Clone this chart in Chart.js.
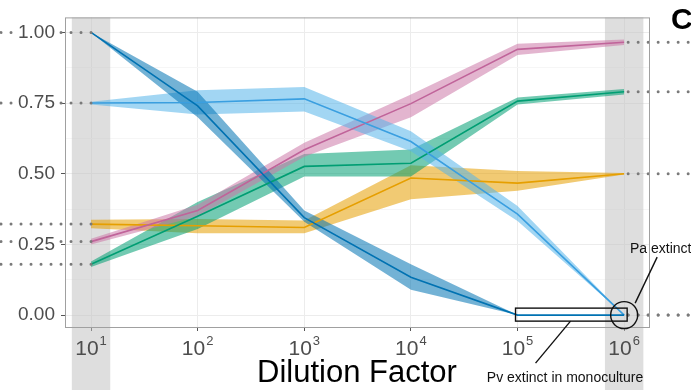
<!DOCTYPE html>
<html>
<head>
<meta charset="utf-8">
<script src="https://cdn.jsdelivr.net/npm/chart.js@4/dist/chart.umd.min.js"></script>
<style>
  body { margin: 0; background: #fff; }
  canvas { display: block; }
</style>
</head>
<body>
<canvas id="chart" width="691" height="390"></canvas>
<script>
// dilution factors (x) and tick exponents
const dilution = [10, 100, 1000, 10000, 100000, 1000000];
const xTickExps = [1, 2, 3, 4, 5, 6];
const yTicks = [0, 0.25, 0.5, 0.75, 1.0];

// mean values and ribbon bounds
const pvMean = [1.00, 0.74, 0.345, 0.134, 0.00, 0.00];
const pvLo   = [1.00, 0.70, 0.33, 0.09, 0.00, 0.00];
const pvHi   = [1.00, 0.79, 0.37, 0.18, 0.00, 0.00];

const paMean = [0.75, 0.752, 0.765, 0.614, 0.357, 0.00];
const paLo   = [0.745, 0.71, 0.72, 0.58, 0.333, 0.00];
const paHi   = [0.755, 0.795, 0.807, 0.65, 0.386, 0.00];

const pinkMean = [0.26, 0.37, 0.585, 0.748, 0.94, 0.965];
const pinkLo   = [0.25, 0.35, 0.56, 0.70, 0.92, 0.955];
const pinkHi   = [0.27, 0.39, 0.61, 0.78, 0.96, 0.975];

const greenMean = [0.18, 0.35, 0.526, 0.537, 0.757, 0.79];
const greenLo   = [0.17, 0.305, 0.49, 0.49, 0.745, 0.78];
const greenHi   = [0.19, 0.40, 0.57, 0.586, 0.77, 0.80];

const orangeMean = [0.322, 0.316, 0.31, 0.485, 0.467, 0.50];
const orangeLo   = [0.307, 0.29, 0.29, 0.41, 0.44, 0.497];
const orangeHi   = [0.337, 0.34, 0.335, 0.53, 0.51, 0.503];

const series = [
  { mean: pvMean, lo: pvLo, hi: pvHi, line: '#0072B2', fill: 'rgba(0,114,178,0.55)' },
  { mean: paMean, lo: paLo, hi: paHi, line: '#3A9FE0', fill: 'rgba(86,180,233,0.55)' },
  { mean: pinkMean, lo: pinkLo, hi: pinkHi, line: '#C0649A', fill: 'rgba(204,121,167,0.55)' },
  { mean: greenMean, lo: greenLo, hi: greenHi, line: '#009E73', fill: 'rgba(0,158,115,0.55)' },
  { mean: orangeMean, lo: orangeLo, hi: orangeHi, line: '#E69F00', fill: 'rgba(230,159,0,0.55)' },
];

// shaded x-ranges (in dilution units) behind the end points
const bands = [[Math.pow(10, 0.82), Math.pow(10, 1.18)], [Math.pow(10, 5.82), Math.pow(10, 6.18)]];

const FONT = '"Liberation Sans", Arial, sans-serif';
const pts = arr => arr.map((v, i) => ({ x: dilution[i], y: v }));

const datasets = [];
series.forEach(s => {
  datasets.push({ data: pts(s.lo), borderWidth: 0, pointRadius: 0, fill: false, order: 2 });
  datasets.push({ data: pts(s.hi), borderWidth: 0, pointRadius: 0, fill: '-1', backgroundColor: s.fill, order: 2 });
});
series.forEach(s => {
  datasets.push({ data: pts(s.mean), borderColor: s.line, borderWidth: 1.6, pointRadius: 0, fill: false, order: 0 });
});

const decorPlugin = {
  id: 'decor',
  beforeDatasetsDraw(chart) {
    const { ctx, chartArea, scales: { x } } = chart;
    ctx.save();
    ctx.fillStyle = 'rgba(190,190,190,0.5)';
    bands.forEach(([a, b]) => {
      const x1 = x.getPixelForValue(a), x2 = x.getPixelForValue(b);
      ctx.fillRect(x1, chartArea.top, x2 - x1, chart.height - chartArea.top);
    });
    ctx.restore();
  },
  afterDatasetsDraw(chart) {
    // dotted guides at the end values, kept off the y labels
    const { ctx, chartArea: ca, scales: { x, y } } = chart;
    ctx.save();
    ctx.font = '19px ' + FONT;
    ctx.beginPath();
    ctx.rect(0, 0, chart.width, chart.height);
    yTicks.forEach(v => {
      const w = ctx.measureText(v.toFixed(2)).width;
      const py = y.getPixelForValue(v);
      ctx.rect(ca.left - 10 - w - 1, py - 9, w + 2, 18);
    });
    ctx.clip('evenodd');
    ctx.strokeStyle = '#7a7a7a';
    ctx.lineWidth = 3;
    ctx.lineCap = 'round';
    ctx.setLineDash([0, 10]);
    const x0 = x.getPixelForValue(dilution[0]);
    const xN = x.getPixelForValue(dilution[dilution.length - 1]);
    series.forEach(s => {
      const y0 = y.getPixelForValue(s.mean[0]);
      ctx.beginPath(); ctx.moveTo(x0, y0); ctx.lineTo(0, y0); ctx.stroke();
      const yN = y.getPixelForValue(s.mean[s.mean.length - 1]);
      ctx.beginPath(); ctx.moveTo(xN + 4, yN); ctx.lineTo(chart.width, yN); ctx.stroke();
    });
    ctx.restore();
  },
  afterDraw(chart) {
    const { ctx, chartArea: ca, scales: { x, y } } = chart;
    ctx.save();
    // panel border
    ctx.strokeStyle = '#a0a0a0';
    ctx.lineWidth = 1;
    ctx.strokeRect(ca.left + 0.5, ca.top + 0.5, ca.right - ca.left, ca.bottom - ca.top);

    // x tick labels with superscripts
    ctx.fillStyle = '#4d4d4d';
    ctx.textBaseline = 'alphabetic';
    xTickExps.forEach(e => {
      const px = x.getPixelForValue(Math.pow(10, e));
      ctx.font = '21px ' + FONT;
      const w1 = ctx.measureText('10').width;
      ctx.font = '13px ' + FONT;
      const w2 = ctx.measureText(String(e)).width;
      const left = px - (w1 + 1 + w2) / 2;
      ctx.font = '21px ' + FONT;
      ctx.textAlign = 'left';
      ctx.fillText('10', left, ca.bottom + 28);
      ctx.font = '13px ' + FONT;
      ctx.fillText(String(e), left + w1 + 1, ca.bottom + 18);
    });

    // axis title
    ctx.fillStyle = '#000';
    ctx.font = '31px ' + FONT;
    ctx.textAlign = 'center';
    ctx.fillText('Dilution Factor', 357, 382);

    // panel letter
    ctx.font = 'bold 30px ' + FONT;
    ctx.textAlign = 'left';
    ctx.fillText('C', 671, 29);

    // annotations
    const xN = x.getPixelForValue(dilution[dilution.length - 1]);
    ctx.strokeStyle = '#111';
    ctx.lineWidth = 1.4;
    const y00 = y.getPixelForValue(0);
    const rx1 = x.getPixelForValue(1e5) - 2, rx2 = x.getPixelForValue(1e6) + 3;
    ctx.strokeRect(rx1, y00 - 7, rx2 - rx1, 13);
    ctx.beginPath(); ctx.arc(xN, y00, 13.5, 0, Math.PI * 2); ctx.stroke();
    ctx.beginPath(); ctx.moveTo(rx1 + 55, y00 + 6); ctx.lineTo(rx1 + 20, y00 + 48); ctx.stroke();
    ctx.beginPath(); ctx.moveTo(xN + 11, y00 - 12); ctx.lineTo(xN + 33, y00 - 58); ctx.stroke();

    ctx.fillStyle = '#111';
    ctx.font = '14px ' + FONT;
    ctx.textAlign = 'center';
    ctx.fillText('Pv extinct in monoculture', 565, 382);
    ctx.textAlign = 'left';
    ctx.fillText('Pa extinct', 630, 253);
    ctx.restore();
  }
};

new Chart(document.getElementById('chart'), {
  type: 'line',
  data: { datasets },
  plugins: [decorPlugin],
  options: {
    responsive: false,
    devicePixelRatio: 1,
    animation: false,
    layout: { padding: { top: 15, right: 42, left: 0, bottom: 0 } },
    plugins: { legend: { display: false }, tooltip: { enabled: false } },
    elements: { line: { tension: 0 } },
    scales: {
      x: {
        type: 'logarithmic',
        min: 5.7,
        max: 1.71e6,
        afterBuildTicks(scale) {
          scale.ticks = xTickExps.map(e => ({ value: Math.pow(10, e) }));
        },
        afterFit(scale) { scale.height = 63; },
        ticks: { display: false },
        border: { display: false },
        grid: { color: '#ececec', lineWidth: 1, tickLength: 4, tickColor: '#555' }
      },
      y: {
        type: 'linear',
        min: -0.042,
        max: 1.053,
        afterBuildTicks(scale) {
          const t = [];
          for (let v = 0; v <= 1.0001; v += 0.125) t.push({ value: Math.round(v * 1000) / 1000 });
          scale.ticks = t;
        },
        afterFit(scale) { scale.width = 65; },
        ticks: {
          padding: 6,
          color: '#4d4d4d',
          font: { family: FONT, size: 19 },
          callback: v => yTicks.includes(v) ? v.toFixed(2) : ''
        },
        border: { display: false },
        grid: {
          color: c => yTicks.includes(c.tick.value) ? '#ececec' : '#f6f6f6',
          tickLength: 4,
          tickColor: c => yTicks.includes(c.tick.value) ? '#555' : 'rgba(0,0,0,0)'
        }
      }
    }
  }
});
</script>
</body>
</html>
